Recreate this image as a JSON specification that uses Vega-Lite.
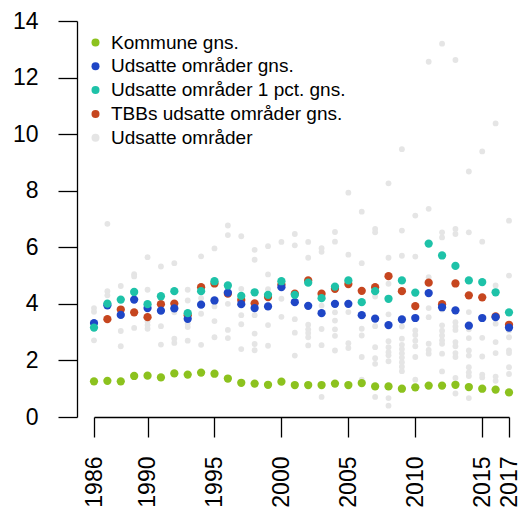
{
  "$schema": "https://vega.github.io/schema/vega-lite/v6.json",
  "width": 415,
  "height": 396,
  "autosize": {"type": "none"},
  "padding": {"left": 94, "right": 14, "top": 21, "bottom": 96},
  "background": "white",
  "config": {
    "view": {"stroke": null},
    "font": "Liberation Sans",
    "axis": {"grid": false, "domainColor": "black", "tickColor": "black", "labelColor": "black", "domainWidth": 1.3, "tickWidth": 1.3, "labelFont": "Liberation Sans", "labelFontSize": 23, "title": null}
  },
  "datasets": {
    "pts": [
      {"year":1986,"value":3.85,"series":"Udsatte områder"},{"year":1986,"value":3.72,"series":"Udsatte områder"},{"year":1986,"value":2.71,"series":"Udsatte områder"},
      {"year":1987,"value":6.83,"series":"Udsatte områder"},{"year":1987,"value":4.45,"series":"Udsatte områder"},{"year":1987,"value":4.3,"series":"Udsatte områder"},
      {"year":1988,"value":4.63,"series":"Udsatte områder"},{"year":1988,"value":3.04,"series":"Udsatte områder"},{"year":1988,"value":2.5,"series":"Udsatte områder"},
      {"year":1989,"value":5.05,"series":"Udsatte områder"},{"year":1989,"value":4.97,"series":"Udsatte områder"},{"year":1989,"value":3.15,"series":"Udsatte områder"},
      {"year":1990,"value":5.65,"series":"Udsatte områder"},{"year":1990,"value":4.5,"series":"Udsatte områder"},{"year":1990,"value":3.38,"series":"Udsatte områder"},{"year":1990,"value":3.25,"series":"Udsatte områder"},{"year":1990,"value":3.12,"series":"Udsatte områder"},
      {"year":1991,"value":5.32,"series":"Udsatte områder"},{"year":1991,"value":3.21,"series":"Udsatte områder"},{"year":1991,"value":2.56,"series":"Udsatte områder"},
      {"year":1992,"value":5.44,"series":"Udsatte områder"},{"year":1992,"value":3.7,"series":"Udsatte områder"},{"year":1992,"value":2.77,"series":"Udsatte områder"},{"year":1992,"value":2.62,"series":"Udsatte områder"},
      {"year":1993,"value":4.5,"series":"Udsatte områder"},{"year":1993,"value":4.12,"series":"Udsatte områder"},{"year":1993,"value":3.3,"series":"Udsatte områder"},{"year":1993,"value":3.18,"series":"Udsatte områder"},{"year":1993,"value":2.7,"series":"Udsatte områder"},
      {"year":1994,"value":5.68,"series":"Udsatte områder"},{"year":1994,"value":4.2,"series":"Udsatte områder"},{"year":1994,"value":3.65,"series":"Udsatte områder"},{"year":1994,"value":2.55,"series":"Udsatte områder"},
      {"year":1995,"value":5.96,"series":"Udsatte områder"},{"year":1995,"value":3.91,"series":"Udsatte områder"},{"year":1995,"value":3.39,"series":"Udsatte områder"},{"year":1995,"value":2.82,"series":"Udsatte områder"},
      {"year":1996,"value":6.77,"series":"Udsatte områder"},{"year":1996,"value":6.43,"series":"Udsatte områder"},{"year":1996,"value":4.0,"series":"Udsatte områder"},{"year":1996,"value":3.08,"series":"Udsatte områder"},{"year":1996,"value":2.79,"series":"Udsatte områder"},
      {"year":1997,"value":6.39,"series":"Udsatte områder"},{"year":1997,"value":4.53,"series":"Udsatte områder"},{"year":1997,"value":3.6,"series":"Udsatte områder"},{"year":1997,"value":3.28,"series":"Udsatte områder"},{"year":1997,"value":2.4,"series":"Udsatte områder"},
      {"year":1998,"value":5.91,"series":"Udsatte områder"},{"year":1998,"value":5.56,"series":"Udsatte områder"},{"year":1998,"value":3.6,"series":"Udsatte områder"},{"year":1998,"value":2.95,"series":"Udsatte områder"},{"year":1998,"value":2.58,"series":"Udsatte områder"},{"year":1998,"value":2.36,"series":"Udsatte områder"},
      {"year":1999,"value":6.04,"series":"Udsatte områder"},{"year":1999,"value":5.04,"series":"Udsatte områder"},{"year":1999,"value":4.52,"series":"Udsatte områder"},{"year":1999,"value":3.25,"series":"Udsatte områder"},{"year":1999,"value":2.52,"series":"Udsatte områder"},
      {"year":2000,"value":6.19,"series":"Udsatte områder"},{"year":2000,"value":4.18,"series":"Udsatte områder"},{"year":2000,"value":3.54,"series":"Udsatte områder"},
      {"year":2001,"value":6.47,"series":"Udsatte områder"},{"year":2001,"value":6.07,"series":"Udsatte områder"},{"year":2001,"value":3.46,"series":"Udsatte områder"},{"year":2001,"value":2.98,"series":"Udsatte områder"},{"year":2001,"value":2.17,"series":"Udsatte områder"},
      {"year":2002,"value":6.19,"series":"Udsatte områder"},{"year":2002,"value":5.63,"series":"Udsatte områder"},{"year":2002,"value":3.26,"series":"Udsatte områder"},{"year":2002,"value":3.1,"series":"Udsatte områder"},{"year":2002,"value":2.97,"series":"Udsatte områder"},{"year":2002,"value":2.82,"series":"Udsatte områder"},{"year":2002,"value":2.53,"series":"Udsatte områder"},
      {"year":2003,"value":5.97,"series":"Udsatte områder"},{"year":2003,"value":5.84,"series":"Udsatte områder"},{"year":2003,"value":3.94,"series":"Udsatte områder"},{"year":2003,"value":3.11,"series":"Udsatte områder"},{"year":2003,"value":2.54,"series":"Udsatte områder"},{"year":2003,"value":0.71,"series":"Udsatte områder"},
      {"year":2004,"value":6.54,"series":"Udsatte områder"},{"year":2004,"value":6.2,"series":"Udsatte områder"},{"year":2004,"value":3.7,"series":"Udsatte områder"},{"year":2004,"value":3.41,"series":"Udsatte områder"},{"year":2004,"value":3.1,"series":"Udsatte områder"},{"year":2004,"value":2.87,"series":"Udsatte områder"},{"year":2004,"value":2.35,"series":"Udsatte områder"},
      {"year":2005,"value":7.93,"series":"Udsatte områder"},{"year":2005,"value":5.74,"series":"Udsatte områder"},{"year":2005,"value":3.71,"series":"Udsatte områder"},{"year":2005,"value":2.61,"series":"Udsatte områder"},{"year":2005,"value":2.44,"series":"Udsatte områder"},
      {"year":2006,"value":7.26,"series":"Udsatte områder"},{"year":2006,"value":5.44,"series":"Udsatte områder"},{"year":2006,"value":3.12,"series":"Udsatte områder"},{"year":2006,"value":2.88,"series":"Udsatte områder"},{"year":2006,"value":2.12,"series":"Udsatte områder"},{"year":2006,"value":1.32,"series":"Udsatte områder"},
      {"year":2007,"value":6.65,"series":"Udsatte områder"},{"year":2007,"value":6.53,"series":"Udsatte områder"},{"year":2007,"value":4.26,"series":"Udsatte områder"},{"year":2007,"value":3.21,"series":"Udsatte områder"},{"year":2007,"value":2.47,"series":"Udsatte områder"},{"year":2007,"value":2.08,"series":"Udsatte områder"},{"year":2007,"value":1.88,"series":"Udsatte områder"},{"year":2007,"value":0.71,"series":"Udsatte områder"},
      {"year":2008,"value":8.26,"series":"Udsatte områder"},{"year":2008,"value":5.63,"series":"Udsatte områder"},{"year":2008,"value":4.71,"series":"Udsatte områder"},{"year":2008,"value":3.63,"series":"Udsatte områder"},{"year":2008,"value":2.68,"series":"Udsatte områder"},{"year":2008,"value":2.47,"series":"Udsatte områder"},{"year":2008,"value":2.29,"series":"Udsatte områder"},{"year":2008,"value":2.18,"series":"Udsatte områder"},{"year":2008,"value":1.97,"series":"Udsatte områder"},{"year":2008,"value":0.67,"series":"Udsatte områder"},{"year":2008,"value":0.4,"series":"Udsatte områder"},
      {"year":2009,"value":9.47,"series":"Udsatte områder"},{"year":2009,"value":6.59,"series":"Udsatte områder"},{"year":2009,"value":5.7,"series":"Udsatte områder"},{"year":2009,"value":3.2,"series":"Udsatte områder"},{"year":2009,"value":2.77,"series":"Udsatte områder"},{"year":2009,"value":2.55,"series":"Udsatte områder"},{"year":2009,"value":2.4,"series":"Udsatte områder"},{"year":2009,"value":2.25,"series":"Udsatte områder"},{"year":2009,"value":2.1,"series":"Udsatte områder"},{"year":2009,"value":1.94,"series":"Udsatte områder"},{"year":2009,"value":1.78,"series":"Udsatte områder"},{"year":2009,"value":1.62,"series":"Udsatte områder"},
      {"year":2010,"value":7.12,"series":"Udsatte områder"},{"year":2010,"value":5.67,"series":"Udsatte områder"},{"year":2010,"value":3.06,"series":"Udsatte områder"},{"year":2010,"value":2.9,"series":"Udsatte områder"},{"year":2010,"value":2.7,"series":"Udsatte områder"},{"year":2010,"value":2.5,"series":"Udsatte områder"},{"year":2010,"value":2.12,"series":"Udsatte områder"},{"year":2010,"value":1.32,"series":"Udsatte områder"},
      {"year":2011,"value":12.56,"series":"Udsatte områder"},{"year":2011,"value":7.36,"series":"Udsatte områder"},{"year":2011,"value":4.94,"series":"Udsatte områder"},{"year":2011,"value":3.85,"series":"Udsatte områder"},{"year":2011,"value":3.53,"series":"Udsatte områder"},{"year":2011,"value":2.59,"series":"Udsatte områder"},{"year":2011,"value":2.37,"series":"Udsatte områder"},{"year":2011,"value":2.24,"series":"Udsatte områder"},
      {"year":2012,"value":13.2,"series":"Udsatte områder"},{"year":2012,"value":6.53,"series":"Udsatte områder"},{"year":2012,"value":6.35,"series":"Udsatte områder"},{"year":2012,"value":3.8,"series":"Udsatte områder"},{"year":2012,"value":3.24,"series":"Udsatte områder"},{"year":2012,"value":3.05,"series":"Udsatte områder"},{"year":2012,"value":2.88,"series":"Udsatte områder"},{"year":2012,"value":2.71,"series":"Udsatte områder"},{"year":2012,"value":2.59,"series":"Udsatte områder"},{"year":2012,"value":2.24,"series":"Udsatte områder"},{"year":2012,"value":1.61,"series":"Udsatte områder"},
      {"year":2013,"value":12.62,"series":"Udsatte områder"},{"year":2013,"value":6.65,"series":"Udsatte områder"},{"year":2013,"value":6.47,"series":"Udsatte områder"},{"year":2013,"value":3.35,"series":"Udsatte områder"},{"year":2013,"value":3.2,"series":"Udsatte områder"},{"year":2013,"value":3.08,"series":"Udsatte områder"},{"year":2013,"value":2.65,"series":"Udsatte områder"},{"year":2013,"value":2.5,"series":"Udsatte områder"},{"year":2013,"value":2.26,"series":"Udsatte områder"},{"year":2013,"value":2.12,"series":"Udsatte områder"},{"year":2013,"value":1.38,"series":"Udsatte områder"},{"year":2013,"value":0.83,"series":"Udsatte områder"},
      {"year":2014,"value":8.68,"series":"Udsatte områder"},{"year":2014,"value":6.53,"series":"Udsatte områder"},{"year":2014,"value":3.71,"series":"Udsatte områder"},{"year":2014,"value":3.1,"series":"Udsatte områder"},{"year":2014,"value":2.79,"series":"Udsatte områder"},{"year":2014,"value":2.35,"series":"Udsatte områder"},{"year":2014,"value":2.17,"series":"Udsatte områder"},{"year":2014,"value":1.76,"series":"Udsatte områder"},{"year":2014,"value":1.58,"series":"Udsatte områder"},{"year":2014,"value":1.45,"series":"Udsatte områder"},{"year":2014,"value":0.67,"series":"Udsatte områder"},
      {"year":2015,"value":9.39,"series":"Udsatte områder"},{"year":2015,"value":6.2,"series":"Udsatte områder"},{"year":2015,"value":2.8,"series":"Udsatte områder"},{"year":2015,"value":2.14,"series":"Udsatte områder"},{"year":2015,"value":1.5,"series":"Udsatte områder"},{"year":2015,"value":1.4,"series":"Udsatte områder"},
      {"year":2016,"value":10.38,"series":"Udsatte områder"},{"year":2016,"value":4.65,"series":"Udsatte områder"},{"year":2016,"value":3.3,"series":"Udsatte områder"},{"year":2016,"value":2.65,"series":"Udsatte områder"},{"year":2016,"value":2.26,"series":"Udsatte områder"},{"year":2016,"value":1.43,"series":"Udsatte områder"},{"year":2016,"value":1.28,"series":"Udsatte områder"},
      {"year":2017,"value":6.94,"series":"Udsatte områder"},{"year":2017,"value":5.0,"series":"Udsatte områder"},{"year":2017,"value":3.06,"series":"Udsatte områder"},{"year":2017,"value":2.82,"series":"Udsatte områder"},{"year":2017,"value":2.35,"series":"Udsatte områder"},{"year":2017,"value":2.26,"series":"Udsatte områder"},{"year":2017,"value":1.76,"series":"Udsatte områder"},{"year":2017,"value":1.52,"series":"Udsatte områder"}
    ],
    "avg": [
      {"year":1986,"value":1.26,"series":"Kommune gns."},{"year":1987,"value":1.28,"series":"Kommune gns."},{"year":1988,"value":1.26,"series":"Kommune gns."},{"year":1989,"value":1.45,"series":"Kommune gns."},{"year":1990,"value":1.46,"series":"Kommune gns."},{"year":1991,"value":1.40,"series":"Kommune gns."},{"year":1992,"value":1.54,"series":"Kommune gns."},{"year":1993,"value":1.50,"series":"Kommune gns."},{"year":1994,"value":1.57,"series":"Kommune gns."},{"year":1995,"value":1.53,"series":"Kommune gns."},{"year":1996,"value":1.36,"series":"Kommune gns."},{"year":1997,"value":1.21,"series":"Kommune gns."},{"year":1998,"value":1.18,"series":"Kommune gns."},{"year":1999,"value":1.14,"series":"Kommune gns."},{"year":2000,"value":1.25,"series":"Kommune gns."},{"year":2001,"value":1.13,"series":"Kommune gns."},{"year":2002,"value":1.13,"series":"Kommune gns."},{"year":2003,"value":1.13,"series":"Kommune gns."},{"year":2004,"value":1.18,"series":"Kommune gns."},{"year":2005,"value":1.13,"series":"Kommune gns."},{"year":2006,"value":1.20,"series":"Kommune gns."},{"year":2007,"value":1.08,"series":"Kommune gns."},{"year":2008,"value":1.08,"series":"Kommune gns."},{"year":2009,"value":1.00,"series":"Kommune gns."},{"year":2010,"value":1.05,"series":"Kommune gns."},{"year":2011,"value":1.11,"series":"Kommune gns."},{"year":2012,"value":1.11,"series":"Kommune gns."},{"year":2013,"value":1.14,"series":"Kommune gns."},{"year":2014,"value":1.06,"series":"Kommune gns."},{"year":2015,"value":1.00,"series":"Kommune gns."},{"year":2016,"value":0.97,"series":"Kommune gns."},{"year":2017,"value":0.87,"series":"Kommune gns."},
      {"year":1987,"value":3.46,"series":"TBBs udsatte områder gns."},{"year":1988,"value":3.80,"series":"TBBs udsatte områder gns."},{"year":1989,"value":3.70,"series":"TBBs udsatte områder gns."},{"year":1990,"value":3.53,"series":"TBBs udsatte områder gns."},{"year":1991,"value":3.99,"series":"TBBs udsatte områder gns."},{"year":1992,"value":4.01,"series":"TBBs udsatte områder gns."},{"year":1993,"value":3.60,"series":"TBBs udsatte områder gns."},{"year":1994,"value":4.59,"series":"TBBs udsatte områder gns."},{"year":1995,"value":4.72,"series":"TBBs udsatte områder gns."},{"year":1996,"value":4.36,"series":"TBBs udsatte områder gns."},{"year":1997,"value":4.14,"series":"TBBs udsatte områder gns."},{"year":1998,"value":4.02,"series":"TBBs udsatte områder gns."},{"year":1999,"value":4.24,"series":"TBBs udsatte områder gns."},{"year":2000,"value":4.68,"series":"TBBs udsatte områder gns."},{"year":2001,"value":4.36,"series":"TBBs udsatte områder gns."},{"year":2002,"value":4.83,"series":"TBBs udsatte områder gns."},{"year":2003,"value":4.36,"series":"TBBs udsatte områder gns."},{"year":2004,"value":4.53,"series":"TBBs udsatte områder gns."},{"year":2005,"value":4.70,"series":"TBBs udsatte områder gns."},{"year":2006,"value":4.46,"series":"TBBs udsatte områder gns."},{"year":2007,"value":4.59,"series":"TBBs udsatte områder gns."},{"year":2008,"value":4.98,"series":"TBBs udsatte områder gns."},{"year":2009,"value":4.45,"series":"TBBs udsatte områder gns."},{"year":2010,"value":3.92,"series":"TBBs udsatte områder gns."},{"year":2011,"value":4.75,"series":"TBBs udsatte områder gns."},{"year":2012,"value":3.99,"series":"TBBs udsatte områder gns."},{"year":2013,"value":4.72,"series":"TBBs udsatte områder gns."},{"year":2014,"value":4.30,"series":"TBBs udsatte områder gns."},{"year":2015,"value":4.23,"series":"TBBs udsatte områder gns."},{"year":2016,"value":3.56,"series":"TBBs udsatte områder gns."},{"year":2017,"value":3.26,"series":"TBBs udsatte områder gns."},
      {"year":1986,"value":3.32,"series":"Udsatte områder gns."},{"year":1987,"value":3.95,"series":"Udsatte områder gns."},{"year":1988,"value":3.61,"series":"Udsatte områder gns."},{"year":1989,"value":4.15,"series":"Udsatte områder gns."},{"year":1990,"value":3.85,"series":"Udsatte områder gns."},{"year":1991,"value":3.76,"series":"Udsatte områder gns."},{"year":1992,"value":3.84,"series":"Udsatte områder gns."},{"year":1993,"value":3.47,"series":"Udsatte områder gns."},{"year":1994,"value":3.97,"series":"Udsatte områder gns."},{"year":1995,"value":4.12,"series":"Udsatte områder gns."},{"year":1996,"value":4.40,"series":"Udsatte områder gns."},{"year":1997,"value":3.99,"series":"Udsatte områder gns."},{"year":1998,"value":3.85,"series":"Udsatte områder gns."},{"year":1999,"value":3.91,"series":"Udsatte områder gns."},{"year":2000,"value":4.59,"series":"Udsatte områder gns."},{"year":2001,"value":4.06,"series":"Udsatte områder gns."},{"year":2002,"value":3.93,"series":"Udsatte områder gns."},{"year":2003,"value":3.67,"series":"Udsatte områder gns."},{"year":2004,"value":4.00,"series":"Udsatte områder gns."},{"year":2005,"value":4.00,"series":"Udsatte områder gns."},{"year":2006,"value":3.60,"series":"Udsatte områder gns."},{"year":2007,"value":3.48,"series":"Udsatte områder gns."},{"year":2008,"value":3.25,"series":"Udsatte områder gns."},{"year":2009,"value":3.45,"series":"Udsatte områder gns."},{"year":2010,"value":3.50,"series":"Udsatte områder gns."},{"year":2011,"value":4.38,"series":"Udsatte områder gns."},{"year":2012,"value":3.88,"series":"Udsatte områder gns."},{"year":2013,"value":3.77,"series":"Udsatte områder gns."},{"year":2014,"value":3.23,"series":"Udsatte områder gns."},{"year":2015,"value":3.50,"series":"Udsatte områder gns."},{"year":2016,"value":3.53,"series":"Udsatte områder gns."},{"year":2017,"value":3.16,"series":"Udsatte områder gns."},
      {"year":1986,"value":3.16,"series":"Udsatte områder 1 pct. gns."},{"year":1987,"value":4.01,"series":"Udsatte områder 1 pct. gns."},{"year":1988,"value":4.15,"series":"Udsatte områder 1 pct. gns."},{"year":1989,"value":4.42,"series":"Udsatte områder 1 pct. gns."},{"year":1990,"value":3.99,"series":"Udsatte områder 1 pct. gns."},{"year":1991,"value":4.27,"series":"Udsatte områder 1 pct. gns."},{"year":1992,"value":4.45,"series":"Udsatte områder 1 pct. gns."},{"year":1993,"value":3.67,"series":"Udsatte områder 1 pct. gns."},{"year":1994,"value":4.45,"series":"Udsatte områder 1 pct. gns."},{"year":1995,"value":4.80,"series":"Udsatte områder 1 pct. gns."},{"year":1996,"value":4.65,"series":"Udsatte områder 1 pct. gns."},{"year":1997,"value":4.28,"series":"Udsatte områder 1 pct. gns."},{"year":1998,"value":4.41,"series":"Udsatte områder 1 pct. gns."},{"year":1999,"value":4.32,"series":"Udsatte områder 1 pct. gns."},{"year":2000,"value":4.80,"series":"Udsatte områder 1 pct. gns."},{"year":2001,"value":4.32,"series":"Udsatte områder 1 pct. gns."},{"year":2002,"value":4.75,"series":"Udsatte områder 1 pct. gns."},{"year":2003,"value":4.20,"series":"Udsatte områder 1 pct. gns."},{"year":2004,"value":4.61,"series":"Udsatte områder 1 pct. gns."},{"year":2005,"value":4.83,"series":"Udsatte områder 1 pct. gns."},{"year":2006,"value":4.06,"series":"Udsatte områder 1 pct. gns."},{"year":2007,"value":4.45,"series":"Udsatte områder 1 pct. gns."},{"year":2008,"value":4.18,"series":"Udsatte områder 1 pct. gns."},{"year":2009,"value":4.83,"series":"Udsatte områder 1 pct. gns."},{"year":2010,"value":4.40,"series":"Udsatte områder 1 pct. gns."},{"year":2011,"value":6.13,"series":"Udsatte områder 1 pct. gns."},{"year":2012,"value":5.71,"series":"Udsatte områder 1 pct. gns."},{"year":2013,"value":5.34,"series":"Udsatte områder 1 pct. gns."},{"year":2014,"value":4.83,"series":"Udsatte områder 1 pct. gns."},{"year":2015,"value":4.77,"series":"Udsatte områder 1 pct. gns."},{"year":2016,"value":4.41,"series":"Udsatte områder 1 pct. gns."},{"year":2017,"value":3.70,"series":"Udsatte områder 1 pct. gns."}
    ]
  },
  "encoding": {
    "x": {"field": "year", "type": "quantitative", "scale": {"domain": [1986, 2017], "nice": false, "zero": false},
      "axis": {"values": [1986, 1990, 1995, 2000, 2005, 2010, 2015, 2017], "format": "d", "labelAngle": -90, "tickSize": 20, "labelPadding": 19, "labelOverlap": false, "labelFlush": false}},
    "y": {"field": "value", "type": "quantitative", "scale": {"domain": [0, 14], "nice": false},
      "axis": {"values": [0, 2, 4, 6, 8, 10, 12, 14], "offset": 17, "tickSize": 19, "labelPadding": 20, "labelFlush": false, "labelOverlap": false}},
    "color": {"field": "series", "type": "nominal",
      "scale": {"domain": ["Kommune gns.", "Udsatte områder gns.", "Udsatte områder 1 pct. gns.", "TBBs udsatte områder gns.", "Udsatte områder"],
        "range": ["#8CC21E", "#1F46C6", "#1EC2A8", "#C6461F", "#E5E5E5"]},
      "legend": {"title": null, "orient": "none", "legendX": -8, "legendY": 12, "labelFontSize": 19, "labelFont": "Liberation Sans", "labelColor": "black", "symbolType": "circle", "symbolSize": 64, "symbolStrokeWidth": 0, "labelOffset": 6, "rowPadding": 3.8, "labelLimit": 400}}
  },
  "layer": [
    {"data": {"name": "pts"}, "mark": {"type": "point", "filled": true, "opacity": 1, "size": 34}},
    {"data": {"name": "avg"}, "mark": {"type": "point", "filled": true, "opacity": 1, "size": 68}}
  ]
}
